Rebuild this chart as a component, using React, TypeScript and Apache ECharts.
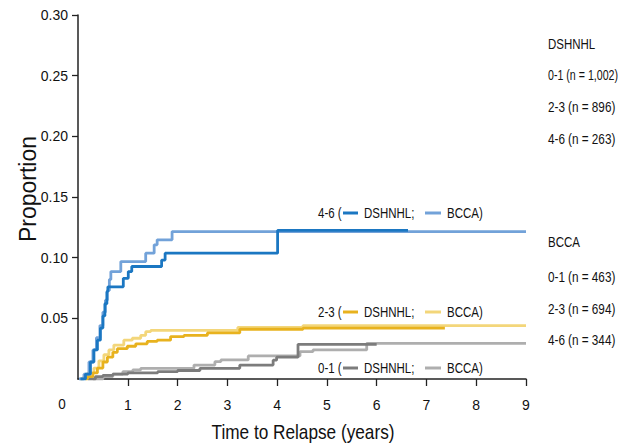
import React, { useEffect, useRef } from "react";
import * as echarts from "echarts";

const xTicks = [1, 2, 3, 4, 5, 6, 7, 8, 9];
const yTicks = [0.05, 0.1, 0.15, 0.2, 0.25, 0.3];

// [time (years), cumulative proportion]
const dshnhl46 = [[0.05,0],[0.15,0.004],[0.25,0.014],[0.32,0.024],[0.39,0.032],[0.45,0.042],[0.5,0.052],[0.54,0.062],[0.58,0.072],[0.6,0.076],[0.91,0.083],[1.01,0.0885],[1.08,0.0927],[1.68,0.098],[1.75,0.1037],[4.01,0.1225],[6.63,0.1225]];
const bcca46 = [[0.02,0],[0.12,0.004],[0.22,0.014],[0.3,0.024],[0.37,0.034],[0.44,0.044],[0.5,0.055],[0.55,0.065],[0.59,0.073],[0.63,0.082],[0.66,0.0885],[0.86,0.0968],[1.36,0.1037],[1.53,0.1106],[1.59,0.1147],[1.89,0.1215],[9,0.1215]];
const dshnhl23 = [[0.15,0],[0.19,0.002],[0.3,0.005],[0.39,0.009],[0.5,0.014],[0.59,0.018],[0.7,0.022],[0.79,0.025],[0.99,0.027],[1.16,0.029],[1.39,0.031],[1.59,0.032],[1.86,0.035],[2.13,0.036],[2.6,0.038],[3.25,0.041],[4.52,0.042],[7.37,0.042]];
const bcca23 = [[0.05,0],[0.09,0.001],[0.2,0.005],[0.32,0.009],[0.42,0.015],[0.52,0.02],[0.62,0.024],[0.72,0.028],[0.92,0.032],[1.09,0.0336],[1.26,0.036],[1.36,0.039],[1.46,0.04],[3.21,0.0425],[4.52,0.044],[9,0.044]];
const dshnhl01 = [[0.2,0],[0.35,0.002],[0.5,0.003],[0.7,0.004],[1.0,0.005],[1.6,0.006],[2.0,0.007],[2.45,0.0088],[3.25,0.0115],[3.92,0.0155],[3.99,0.018],[4.42,0.0286],[6.0,0.0286]];
const bcca01 = [[0.3,0],[0.5,0.002],[0.7,0.004],[0.9,0.006],[1.1,0.0075],[1.26,0.0088],[2.33,0.0115],[2.75,0.0143],[2.87,0.0157],[3.42,0.019],[4.46,0.0225],[4.72,0.024],[5.8,0.0294],[9,0.0294]];

const groups = ["0-1", "2-3", "4-6"];
const dshnhlN = ["1,002", "896", "263"];
const bccaN = ["463", "694", "344"];

const C = {
  dsh46: "#1b77c2",
  bcca46: "#72a2d9",
  dsh23: "#e8b21e",
  bcca23: "#f3d67a",
  dsh01: "#7c7c7c",
  bcca01: "#aeaeae",
};

const FONT = "'Liberation Sans', Arial, Helvetica, sans-serif";
const SQ = 0.82;

export default function App() {
  const ref = useRef<HTMLDivElement>(null);
  useEffect(() => {
    if (!ref.current) return;
    const chart = echarts.init(ref.current, null, { renderer: "svg" });
    const mk = (name: string, data: number[][], color: string, z: number) => ({
      name,
      type: "line",
      step: "end",
      data,
      symbol: "none",
      z,
      lineStyle: { color, width: 2.8 },
      itemStyle: { color },
    });
    const txt = (x: number, y: number, text: string, size: number, extra: any = {}, sx = SQ) => ({
      type: "text",
      x,
      y,
      scaleX: sx,
      style: {
        text,
        fontSize: size,
        fontFamily: FONT,
        fill: "#111",
        verticalAlign: "middle",
        align: "left",
        ...extra,
      },
    });
    const seg = (x1: number, x2: number, y: number, color: string) => ({
      type: "line",
      shape: { x1, y1: y, x2, y2: y },
      style: { stroke: color, lineWidth: 3 },
    });
    const rowLegend = (y: number, label: string, dark: string, light: string) => [
      txt(318, y, label + " (", 14),
      seg(343, 358, y, dark),
      txt(364, y, "DSHNHL;", 14),
      seg(425, 441, y, light),
      txt(447, y, "BCCA)", 14),
    ];
    const nt = (x: number, y: number, text: string, sx = 0.84) => txt(x, y, text, 14, {}, sx);
    const dRows = [75, 107, 139];
    const bRows = [277, 309, 340];
    const graphics: any[] = [
      ...rowLegend(213, groups[2], C.dsh46, C.bcca46),
      ...rowLegend(312, groups[1], C.dsh23, C.bcca23),
      ...rowLegend(368, groups[0], C.dsh01, C.bcca01),
      txt(548, 44, "DSHNHL", 14),
      nt(548, dRows[0], groups[0] + " (n = " + dshnhlN[0] + ")", 0.76),
      nt(548, dRows[1], groups[1]),
      nt(568, dRows[1], "(n = " + dshnhlN[1] + ")"),
      nt(548, dRows[2], groups[2]),
      nt(568, dRows[2], "(n = " + dshnhlN[2] + ")"),
      txt(548, 242, "BCCA", 14),
      ...groups.flatMap((g, i) => [
        nt(548, bRows[i], g),
        nt(568, bRows[i], "(n = " + bccaN[i] + ")"),
      ]),
      txt(62, 404, "0", 15, { align: "center" }, 0.9),
      txt(303, 432, "Time to Relapse (years)", 21, { align: "center" }),
      {
        type: "text",
        x: 28,
        y: 189,
        rotation: Math.PI / 2,
        style: {
          text: "Proportion",
          fontSize: 23,
          fontFamily: FONT,
          fill: "#111",
          align: "center",
          verticalAlign: "middle",
        },
      },
    ];
    chart.setOption({
      animation: false,
      backgroundColor: "#fff",
      textStyle: { fontFamily: FONT },
      grid: { left: 78, right: 97, top: 15, bottom: 66 },
      xAxis: {
        type: "value",
        min: 0,
        max: 9,
        interval: 1,
        splitLine: { show: false },
        axisLine: { show: true, lineStyle: { color: "#222", width: 1.5 } },
        axisTick: { show: true, length: 7, lineStyle: { color: "#222", width: 1.3 }, customValues: xTicks },
        axisLabel: { fontSize: 14, color: "#111", margin: 19, customValues: xTicks, fontFamily: FONT },
      },
      yAxis: {
        type: "value",
        min: 0,
        max: 0.3,
        interval: 0.05,
        splitLine: { show: false },
        axisLine: { show: true, lineStyle: { color: "#222", width: 1.5 } },
        axisTick: { show: true, length: 6, lineStyle: { color: "#222", width: 1.3 }, customValues: yTicks },
        axisLabel: {
          fontSize: 14,
          color: "#111",
          margin: 10,
          customValues: yTicks,
          fontFamily: FONT,
          formatter: (v: number) => v.toFixed(2),
        },
      },
      series: [
        mk("BCCA 0-1", bcca01, C.bcca01, 2),
        mk("DSHNHL 0-1", dshnhl01, C.dsh01, 3),
        mk("BCCA 2-3", bcca23, C.bcca23, 4),
        mk("DSHNHL 2-3", dshnhl23, C.dsh23, 5),
        mk("BCCA 4-6", bcca46, C.bcca46, 6),
        mk("DSHNHL 4-6", dshnhl46, C.dsh46, 7),
      ],
      graphic: graphics,
    });
    return () => chart.dispose();
  }, []);
  return (
    <div
      ref={ref}
      style={{ position: "absolute", left: 0, top: 0, width: 623, height: 445, background: "#fff" }}
    />
  );
}
